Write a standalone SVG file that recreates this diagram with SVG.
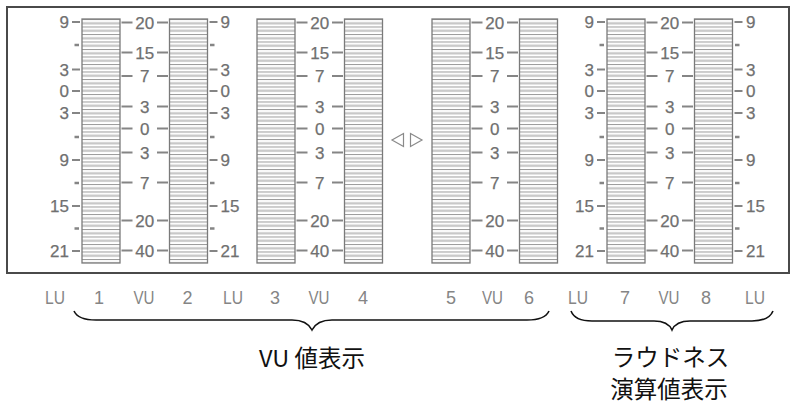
<svg xmlns="http://www.w3.org/2000/svg" width="795" height="405" viewBox="0 0 795 405">
<defs>
<pattern id="seg" patternUnits="userSpaceOnUse" x="0" y="19" width="40" height="7.5">
<rect x="0" y="0" width="40" height="7.5" fill="#ffffff"/>
<rect x="0" y="0" width="40" height="1" fill="#9a9a9a"/>
<rect x="0" y="3.2" width="40" height="2.2" fill="#c4c4c4"/>
</pattern>
</defs>
<style>
.frame{fill:#fff;stroke:#4a4a4a;stroke-width:2}
.bar{fill:url(#seg);stroke:#7a7a7a;stroke-width:1.3}
.tk{stroke:#858585;stroke-width:1.9;fill:none}
.tu{stroke:#858585;stroke-width:2.6;fill:none}
.n{font-family:"Liberation Sans",Arial,sans-serif;font-size:17px;fill:#707070;stroke:#707070;stroke-width:0.25}
.e{text-anchor:end}
.m{text-anchor:middle}
.b{font-family:"Liberation Sans",Arial,sans-serif;font-size:18px;fill:#858585;text-anchor:middle}
.j{font-family:"Noto Sans CJK JP","Noto Sans CJK SC",sans-serif;font-size:23.5px;fill:#111;text-anchor:middle}
.br{fill:none;stroke:#111;stroke-width:1.6}
.tri{fill:none;stroke:#8a8a8a;stroke-width:1.2}
</style>
<rect class="frame" x="7" y="7" width="782" height="266"/>

<g id="bars">
<rect id="bar1" class="bar" x="82" y="19" width="38" height="244"/>
<rect id="bar2" class="bar" x="169.5" y="19" width="38" height="244"/>
<rect id="bar3" class="bar" x="257" y="19" width="38" height="244"/>
<rect id="bar4" class="bar" x="344.5" y="19" width="38" height="244"/>
<rect id="bar5" class="bar" x="432" y="19" width="38" height="244"/>
<rect id="bar6" class="bar" x="519.5" y="19" width="38" height="244"/>
<rect id="bar7" class="bar" x="607" y="19" width="38" height="244"/>
<rect id="bar8" class="bar" x="694.5" y="19" width="38" height="244"/>
</g>

<g id="lu-scale-1">
<path class="tk" d="M72 22H80M72 69.5H80M72 91H80M72 113H80M72 160H80M72 206H80M72 251H80"/>
<path class="tu" d="M74.5 45H79M74.5 137H79M74.5 183H79M74.5 228.5H79"/>
<text class="n e" x="69" y="28.1">9</text>
<text class="n e" x="69" y="75.6">3</text>
<text class="n e" x="69" y="97.1">0</text>
<text class="n e" x="69" y="119.1">3</text>
<text class="n e" x="69" y="166.1">9</text>
<text class="n e" x="69" y="212.1">15</text>
<text class="n e" x="69" y="257.1">21</text>
</g>

<g id="lu-scale-2">
<path class="tk" d="M209.5 22H217.5M209.5 69.5H217.5M209.5 91H217.5M209.5 113H217.5M209.5 160H217.5M209.5 206H217.5M209.5 251H217.5"/>
<path class="tu" d="M210 45H214.5M210 137H214.5M210 183H214.5M210 228.5H214.5"/>
<text class="n" x="220.5" y="28.1">9</text>
<text class="n" x="220.5" y="75.6">3</text>
<text class="n" x="220.5" y="97.1">0</text>
<text class="n" x="220.5" y="119.1">3</text>
<text class="n" x="220.5" y="166.1">9</text>
<text class="n" x="220.5" y="212.1">15</text>
<text class="n" x="220.5" y="257.1">21</text>
</g>

<g id="lu-scale-7">
<path class="tk" d="M597 22H605M597 69.5H605M597 91H605M597 113H605M597 160H605M597 206H605M597 251H605"/>
<path class="tu" d="M599.5 45H604M599.5 137H604M599.5 183H604M599.5 228.5H604"/>
<text class="n e" x="594" y="28.1">9</text>
<text class="n e" x="594" y="75.6">3</text>
<text class="n e" x="594" y="97.1">0</text>
<text class="n e" x="594" y="119.1">3</text>
<text class="n e" x="594" y="166.1">9</text>
<text class="n e" x="594" y="212.1">15</text>
<text class="n e" x="594" y="257.1">21</text>
</g>

<g id="lu-scale-8">
<path class="tk" d="M734.5 22H742.5M734.5 69.5H742.5M734.5 91H742.5M734.5 113H742.5M734.5 160H742.5M734.5 206H742.5M734.5 251H742.5"/>
<path class="tu" d="M735 45H739.5M735 137H739.5M735 183H739.5M735 228.5H739.5"/>
<text class="n" x="746" y="28.1">9</text>
<text class="n" x="746" y="75.6">3</text>
<text class="n" x="746" y="97.1">0</text>
<text class="n" x="746" y="119.1">3</text>
<text class="n" x="746" y="166.1">9</text>
<text class="n" x="746" y="212.1">15</text>
<text class="n" x="746" y="257.1">21</text>
</g>

<g id="vu-scale-12">
<path class="tk" d="M121.5 22.5H132.5M157 22.5H168M121.5 52.5H132.5M157 52.5H168M121.5 76H132.5M157 76H168M121.5 106.5H132.5M157 106.5H168M121.5 128.5H132.5M157 128.5H168M121.5 152.5H132.5M157 152.5H168M121.5 182.5H132.5M157 182.5H168M121.5 220.5H132.5M157 220.5H168M121.5 250.5H132.5M157 250.5H168"/>
<text class="n m" x="144.75" y="28.6">20</text>
<text class="n m" x="144.75" y="58.6">15</text>
<text class="n m" x="144.75" y="82.1">7</text>
<text class="n m" x="144.75" y="112.6">3</text>
<text class="n m" x="144.75" y="134.6">0</text>
<text class="n m" x="144.75" y="158.6">3</text>
<text class="n m" x="144.75" y="188.6">7</text>
<text class="n m" x="144.75" y="226.6">20</text>
<text class="n m" x="144.75" y="256.6">40</text>
</g>

<g id="vu-scale-34">
<path class="tk" d="M296.5 22.5H307.5M332 22.5H343M296.5 52.5H307.5M332 52.5H343M296.5 76H307.5M332 76H343M296.5 106.5H307.5M332 106.5H343M296.5 128.5H307.5M332 128.5H343M296.5 152.5H307.5M332 152.5H343M296.5 182.5H307.5M332 182.5H343M296.5 220.5H307.5M332 220.5H343M296.5 250.5H307.5M332 250.5H343"/>
<text class="n m" x="319.75" y="28.6">20</text>
<text class="n m" x="319.75" y="58.6">15</text>
<text class="n m" x="319.75" y="82.1">7</text>
<text class="n m" x="319.75" y="112.6">3</text>
<text class="n m" x="319.75" y="134.6">0</text>
<text class="n m" x="319.75" y="158.6">3</text>
<text class="n m" x="319.75" y="188.6">7</text>
<text class="n m" x="319.75" y="226.6">20</text>
<text class="n m" x="319.75" y="256.6">40</text>
</g>

<g id="vu-scale-56">
<path class="tk" d="M471.5 22.5H482.5M507 22.5H518M471.5 52.5H482.5M507 52.5H518M471.5 76H482.5M507 76H518M471.5 106.5H482.5M507 106.5H518M471.5 128.5H482.5M507 128.5H518M471.5 152.5H482.5M507 152.5H518M471.5 182.5H482.5M507 182.5H518M471.5 220.5H482.5M507 220.5H518M471.5 250.5H482.5M507 250.5H518"/>
<text class="n m" x="494.75" y="28.6">20</text>
<text class="n m" x="494.75" y="58.6">15</text>
<text class="n m" x="494.75" y="82.1">7</text>
<text class="n m" x="494.75" y="112.6">3</text>
<text class="n m" x="494.75" y="134.6">0</text>
<text class="n m" x="494.75" y="158.6">3</text>
<text class="n m" x="494.75" y="188.6">7</text>
<text class="n m" x="494.75" y="226.6">20</text>
<text class="n m" x="494.75" y="256.6">40</text>
</g>

<g id="vu-scale-78">
<path class="tk" d="M646.5 22.5H657.5M682 22.5H693M646.5 52.5H657.5M682 52.5H693M646.5 76H657.5M682 76H693M646.5 106.5H657.5M682 106.5H693M646.5 128.5H657.5M682 128.5H693M646.5 152.5H657.5M682 152.5H693M646.5 182.5H657.5M682 182.5H693M646.5 220.5H657.5M682 220.5H693M646.5 250.5H657.5M682 250.5H693"/>
<text class="n m" x="669.75" y="28.6">20</text>
<text class="n m" x="669.75" y="58.6">15</text>
<text class="n m" x="669.75" y="82.1">7</text>
<text class="n m" x="669.75" y="112.6">3</text>
<text class="n m" x="669.75" y="134.6">0</text>
<text class="n m" x="669.75" y="158.6">3</text>
<text class="n m" x="669.75" y="188.6">7</text>
<text class="n m" x="669.75" y="226.6">20</text>
<text class="n m" x="669.75" y="256.6">40</text>
</g>

<g id="arrows">
<polygon class="tri" points="403.5,133.5 392,140 403.5,146.5"/>
<polygon class="tri" points="410.5,133.5 422,140 410.5,146.5"/>
</g>

<g id="bottom-labels">
<text class="b" x="55" y="304" textLength="20" lengthAdjust="spacingAndGlyphs">LU</text>
<text class="b" x="99" y="304">1</text>
<text class="b" x="144" y="304" textLength="21" lengthAdjust="spacingAndGlyphs">VU</text>
<text class="b" x="187.5" y="304">2</text>
<text class="b" x="233" y="304" textLength="20" lengthAdjust="spacingAndGlyphs">LU</text>
<text class="b" x="275" y="304">3</text>
<text class="b" x="319" y="304" textLength="21" lengthAdjust="spacingAndGlyphs">VU</text>
<text class="b" x="363" y="304">4</text>
<text class="b" x="451" y="304">5</text>
<text class="b" x="492.5" y="304" textLength="21" lengthAdjust="spacingAndGlyphs">VU</text>
<text class="b" x="529" y="304">6</text>
<text class="b" x="578" y="304" textLength="20" lengthAdjust="spacingAndGlyphs">LU</text>
<text class="b" x="625" y="304">7</text>
<text class="b" x="669" y="304" textLength="21" lengthAdjust="spacingAndGlyphs">VU</text>
<text class="b" x="706" y="304">8</text>
<text class="b" x="755" y="304" textLength="20" lengthAdjust="spacingAndGlyphs">LU</text>
</g>

<g id="connectors">
<path class="br" d="M74 311Q78 320 96 320L292 320Q307 320 312 330Q317 320 332 320L527 320Q545 320 549 311"/>
<path class="br" d="M571 311Q575 321 592 321L654 321Q668 321 672 330Q676 321 690 321L752 321Q769 321 773 311"/>
</g>

<g id="group-labels">
<text id="vu-label" class="j" x="312" y="367">VU 値表示</text>
<text id="loud-label-1" class="j" x="670.5" y="366">ラウドネス</text>
<text id="loud-label-2" class="j" x="669" y="397.5">演算値表示</text>
</g>
</svg>
